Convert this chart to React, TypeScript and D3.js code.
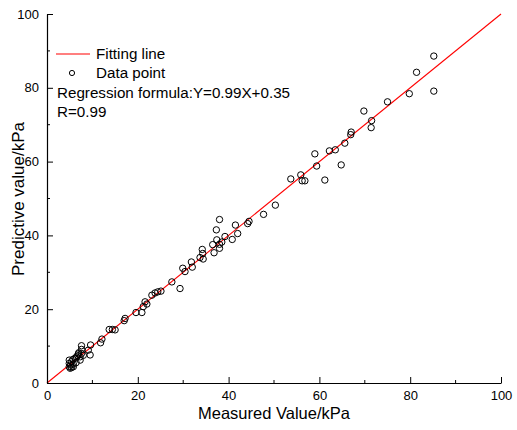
import React, { useEffect, useRef } from 'react';
import * as d3 from 'd3';

const measured = [
  85.2, 81.4, 79.8, 85.2, 75.0, 69.8, 71.5, 71.4, 67.0, 66.9, 65.6, 63.5, 62.2, 59.0, 59.4, 64.8,
  53.7, 55.9, 56.2, 56.8, 61.2, 50.3, 47.7, 44.5, 44.2, 41.5, 38.0, 37.3, 42.0, 39.2, 40.8, 37.4,
  38.5, 36.5, 38.0, 38.0, 36.8, 34.2, 34.3, 33.7, 34.4, 31.8, 32.0, 29.9, 30.4, 29.3, 27.5, 23.1,
  23.8, 24.4, 25.1, 21.6, 22.0, 21.2, 20.9, 19.6, 17.2, 17.0, 13.7, 14.4, 15.0, 12.1, 11.8, 9.6,
  9.1, 9.5, 7.6, 7.6, 7.6, 6.9, 7.3, 6.5, 6.2, 5.7, 7.3, 4.9, 4.9, 5.2, 4.9, 5.4,
  5.8, 5.4, 6.4, 5.8, 5.1, 8.0, 6.8, 7.0
];
const predicted = [
  88.6, 84.2, 78.4, 79.1, 76.2, 73.7, 71.1, 69.2, 68.0, 67.3, 65.0, 63.2, 62.9, 62.1, 58.8, 59.1,
  55.3, 56.4, 54.8, 54.8, 55.0, 48.2, 45.7, 43.8, 43.2, 42.8, 44.3, 41.5, 40.5, 39.7, 38.9, 38.8,
  38.2, 37.5, 37.6, 36.5, 35.3, 36.2, 35.1, 34.0, 33.6, 32.8, 31.4, 31.1, 30.2, 25.6, 27.4, 23.8,
  24.4, 24.7, 24.9, 22.0, 21.4, 20.7, 19.1, 19.1, 17.5, 16.9, 14.5, 14.5, 14.4, 11.9, 10.9, 10.3,
  8.9, 7.6, 10.1, 9.1, 8.0, 7.9, 7.1, 7.1, 6.7, 6.4, 6.2, 6.2, 5.3, 4.9, 4.4, 4.2,
  4.4, 5.8, 5.5, 5.1, 4.0, 7.5, 7.4, 8.2
];
const tickValues = [0, 20, 40, 60, 80, 100];
const minorTicks = [10, 30, 50, 70, 90];
const fitLine = [0, 100];
const legendLabels = ['Fitting line', 'Data point'];
const formulaText = 'Regression formula:Y=0.99X+0.35';
const rText = 'R=0.99';

const App = () => {
  const svgRef = useRef<SVGSVGElement>(null);

  useEffect(() => {
    const svg = d3.select(svgRef.current);
    svg.selectAll('*').remove();

    const font = 'Arial, "Liberation Sans", sans-serif';
    const x = d3.scaleLinear().domain([0, 100]).range([47, 501]);
    const y = d3.scaleLinear().domain([0, 100]).range([383, 14]);

    // fitting line
    svg.append('line')
      .attr('x1', x(fitLine[0])).attr('y1', y(fitLine[0]))
      .attr('x2', x(fitLine[1])).attr('y2', y(fitLine[1]))
      .attr('stroke', '#ff0000')
      .attr('stroke-width', 1.1);

    // data points
    svg.append('g')
      .selectAll('circle')
      .data(measured.map((m, i) => [m, predicted[i]]))
      .enter()
      .append('circle')
      .attr('cx', (d) => x(d[0]))
      .attr('cy', (d) => y(d[1]))
      .attr('r', 3.2)
      .attr('fill', 'none')
      .attr('stroke', '#000')
      .attr('stroke-width', 1);

    // axes, ticks pointing inward
    const xAxis = svg.append('g').attr('transform', `translate(0,${y(0)})`);
    xAxis.call(d3.axisBottom(x).tickValues(tickValues).tickSizeInner(-6).tickSizeOuter(0).tickPadding(8));
    xAxis.append('g').selectAll('line').data(minorTicks).enter().append('line')
      .attr('x1', (d) => x(d)).attr('x2', (d) => x(d))
      .attr('y1', 0).attr('y2', -3).attr('stroke', '#000');

    const yAxis = svg.append('g').attr('transform', `translate(${x(0)},0)`);
    yAxis.call(d3.axisLeft(y).tickValues(tickValues).tickSizeInner(-6).tickSizeOuter(0).tickPadding(8));
    yAxis.append('g').selectAll('line').data(minorTicks).enter().append('line')
      .attr('y1', (d) => y(d)).attr('y2', (d) => y(d))
      .attr('x1', 0).attr('x2', 3).attr('stroke', '#000');

    [xAxis, yAxis].forEach((a) => {
      a.select('.domain').attr('stroke', '#000').attr('stroke-width', 1.2);
      a.selectAll('.tick line').attr('stroke', '#000');
      a.selectAll('.tick text')
        .attr('font-family', font)
        .attr('font-size', 13)
        .attr('fill', '#000');
    });

    // axis titles
    svg.append('text')
      .attr('x', 274).attr('y', 419)
      .attr('text-anchor', 'middle')
      .attr('font-family', font).attr('font-size', 16.5)
      .text('Measured Value/kPa');

    svg.append('text')
      .attr('transform', 'translate(24,199) rotate(-90)')
      .attr('text-anchor', 'middle')
      .attr('font-family', font).attr('font-size', 17)
      .text('Predictive value/kPa');

    // legend
    const legend = svg.append('g').attr('font-family', font).attr('font-size', 15.2);
    legend.append('line')
      .attr('x1', 56).attr('x2', 90).attr('y1', 54).attr('y2', 54)
      .attr('stroke', '#ff0000').attr('stroke-width', 1.1);
    legend.append('circle')
      .attr('cx', 72).attr('cy', 73).attr('r', 2.6)
      .attr('fill', 'none').attr('stroke', '#000');
    legend.selectAll('text.lab').data(legendLabels).enter().append('text')
      .attr('class', 'lab')
      .attr('x', 96).attr('y', (d, i) => 59 + i * 19)
      .text((d) => d);
    legend.append('text').attr('x', 57).attr('y', 98).text(formulaText);
    legend.append('text').attr('x', 57).attr('y', 117).text(rText);
  }, []);

  return (
    <svg
      ref={svgRef}
      width={517}
      height={430}
      style={{ position: 'absolute', left: 0, top: 0, background: '#fff' }}
    />
  );
};

export default App;
